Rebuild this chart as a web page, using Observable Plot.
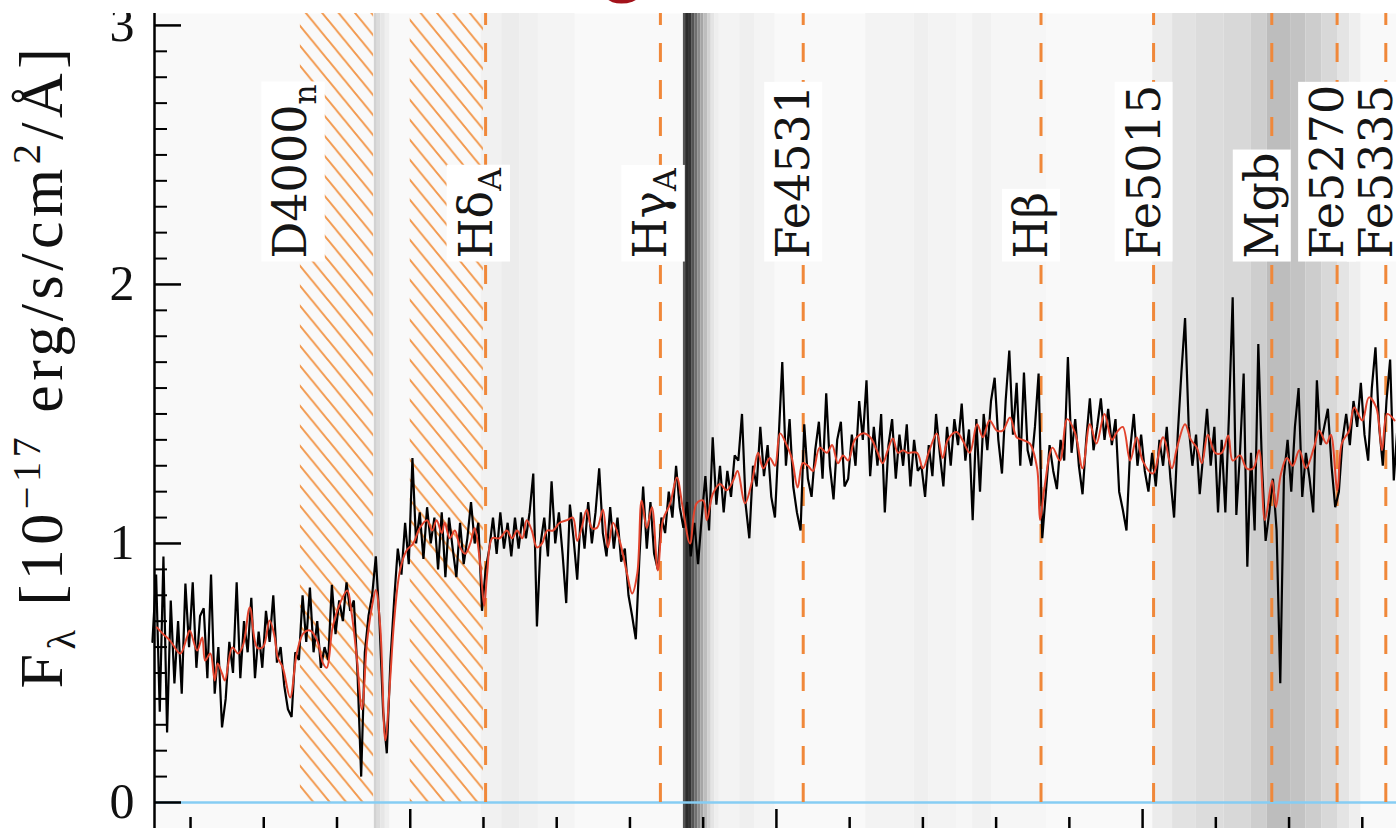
<!DOCTYPE html>
<html><head><meta charset="utf-8">
<script src="https://cdn.jsdelivr.net/npm/d3@7"></script>
<script src="https://cdn.jsdelivr.net/npm/@observablehq/plot@0.6"></script>
<style>
html,body{margin:0;padding:0;background:#fff;overflow:hidden;}
#wrap{position:relative;width:1396px;height:828px;overflow:hidden;}
#topmask{position:absolute;left:0;top:0;width:1396px;height:13px;background:#fff;overflow:hidden;}
#title{position:absolute;left:598px;top:-52px;font:bold 60px "Liberation Sans";color:#a3121b;white-space:nowrap;}
#ylabel{position:absolute;left:45px;top:366px;transform:translate(-50%,-50%) rotate(-90deg);white-space:nowrap;font-family:"Liberation Serif";font-size:62px;line-height:1;color:#111;letter-spacing:4.5px;}
#ylabel sub,#ylabel sup{font-size:0.65em;}
</style></head><body>
<div id="wrap"><div id="chart"></div><div id="topmask"><span id="title">G</span></div>
<div id="ylabel">F<sub>λ</sub> [10<sup>−17</sup> erg/s/cm<sup>2</sup>/Å]</div></div>
<script>
// ---- spectral index labels and lines ----
const indexNames = ["H\u03b4_A", "H\u03b3_A", "Fe4531", "H\u03b2", "Fe5015", "Mgb", "Fe5270", "Fe5335"];
const indexWaves = [4102.9, 4341.6, 4536.6, 4861.3, 5015.0, 5176.4, 5265.6, 5332.1];
const d4000Name = "D4000_n";
const d4000Wave = 3850;
// D4000n blue and red bands (hatched)
const hatchStart = [3850, 4000];
const hatchEnd = [3950, 4100];
// grey sky/weight bands behind the spectrum
const bandStart = [3951,3955,3960,3966, 4097,4125,4150,4175, 4373,4376,4380,4385,4389,4393,4397,4401,4406,4411,4416, 4422,4450,4470, 4622,4688,4708,4746,4768,4794, 5014,5041,5073,5111,5148,5170,5203,5223,5245,5267,5283];
const bandEnd   = [3955,3960,3966,3972, 4125,4150,4175,4225, 4376,4380,4385,4389,4393,4397,4401,4406,4411,4416,4422, 4450,4470,4498, 4688,4708,4746,4768,4794,4869, 5041,5073,5111,5148,5170,5203,5223,5245,5267,5283,5298];
const bandGray  = ["#d2d2d2","#dcdcdc","#e6e6e6","#efefef", "#f1f1f1","#ececec","#f0f0f0","#f4f4f4",
  "#555555","#2c2c2c","#333333","#555555","#707070","#8c8c8c","#a5a5a5","#bdbdbd","#d2d2d2","#e4e4e4","#eeeeee",
  "#f3f3f3","#efefef","#f4f4f4", "#f3f3f3","#efefef","#f3f3f3","#f6f6f6","#f1f1f1","#f6f6f6",
  "#ececec","#e2e2e2","#dcdcdc","#d8d8d8","#cecece","#bdbdbd","#c3c3c3","#cdcdcd","#d8d8d8","#e4e4e4","#eeeeee"];

// ---- observed spectrum (flux, 1e-17 erg/s/cm2/A) on a 5 A grid starting at 3648 A ----
const waveStart = 3648, waveStep = 5;
const flux = [
 0.62,0.88,0.35,0.95,0.27,0.78,0.46,0.70,0.42,0.845,
 0.60,0.85,0.52,0.72,0.75,0.48,0.88,0.42,0.60,0.29,
 0.40,0.62,0.50,0.85,0.48,0.70,0.58,0.79,0.48,0.66,
 0.52,0.74,0.62,0.80,0.54,0.60,0.45,0.36,0.33,0.58,
 0.55,0.80,0.62,0.83,0.58,0.70,0.52,0.60,0.55,0.84,
 0.65,0.78,0.70,0.85,0.74,0.78,0.50,0.10,0.58,0.72,
 0.80,0.95,0.70,0.35,0.19,0.55,0.78,0.98,0.88,1.08,
 0.92,1.33,1.00,1.12,0.94,1.14,1.00,1.10,0.90,1.12,
 0.87,1.10,0.98,0.87,1.08,0.92,1.02,1.16,1.00,1.08,
 0.74,0.90,0.98,1.10,0.96,1.12,0.98,1.08,0.95,1.10,
 0.98,1.10,1.02,1.12,1.27,0.68,1.00,1.10,0.95,1.24,
 1.00,1.12,0.96,0.77,1.15,1.02,0.86,1.12,0.98,1.16,
 1.00,1.12,1.29,1.04,0.95,1.14,0.98,1.10,0.93,0.98,
 0.80,0.72,0.63,0.95,1.22,0.98,1.16,0.96,0.90,1.10,
 1.04,1.20,1.10,1.30,1.14,1.06,1.16,0.95,1.08,0.92,
 1.10,1.26,1.05,1.41,1.15,1.30,1.12,1.28,1.18,1.34,
 1.32,1.50,1.15,1.02,1.30,1.22,1.45,1.26,1.38,1.18,
 1.10,1.40,1.70,1.30,1.48,1.22,1.12,1.05,1.46,1.25,
 1.18,1.36,1.47,1.25,1.58,1.30,1.17,1.40,1.47,1.22,
 1.25,1.42,1.30,1.55,1.40,1.63,1.26,1.45,1.30,1.50,
 1.12,1.38,1.48,1.25,1.42,1.30,1.46,1.22,1.40,1.28,
 1.30,1.18,1.38,1.26,1.50,1.35,1.22,1.45,1.30,1.48,
 1.38,1.54,1.32,1.44,1.09,1.48,1.20,1.50,1.36,1.55,
 1.64,1.40,1.27,1.55,1.745,1.42,1.62,1.30,1.66,1.36,
 1.30,1.45,1.656,1.02,1.20,1.38,1.28,1.21,1.40,1.32,
 1.72,1.35,1.48,1.30,1.19,1.40,1.56,1.36,1.45,1.56,
 1.40,1.52,1.38,1.48,1.20,1.13,1.05,1.36,1.50,1.30,
 1.42,1.28,1.20,1.35,1.22,1.40,1.30,1.45,1.25,1.10,
 1.42,1.66,1.87,1.45,1.30,1.42,1.19,1.35,1.52,1.30,
 1.45,1.12,1.40,1.12,1.50,1.95,1.11,1.35,1.656,0.91,
 1.35,1.05,1.77,1.30,1.01,1.12,1.25,1.05,0.46,1.26,
 1.40,1.20,1.45,1.60,1.18,1.35,1.25,1.12,1.63,1.38,
 1.45,1.52,1.30,1.14,1.20,1.40,1.50,1.38,1.55,1.45,
 1.62,1.42,1.32,1.60,1.757,1.45,1.30,1.55,1.71,1.243,1.45
];

// ---- best-fit model ----
const modelWave = [
 3654,3662,3672,3686,3695,3699,3709,3716,3720,3727,
 3733,3737,3743,3747,3757,3765,3772,3781,3791,3799,
 3808,3815,3819,3826,3836,3845,3854,3863,3873,3881,
 3886,3894,3904,3914,3920,3927,3934,3941,3948,3953,
 3959,3966,3972,3978,3986,3995,4004,4013,4023,4030,
 4036,4043,4047,4054,4061,4068,4075,4082,4088,4095,
 4101,4105,4112,4122,4132,4139,4146,4153,4159,4166,
 4173,4180,4187,4195,4204,4214,4222,4228,4234,4241,
 4248,4255,4263,4270,4277,4286,4296,4303,4310,4316,
 4323,4330,4338,4345,4355,4364,4372,4382,4391,4400,
 4405,4413,4423,4432,4441,4447,4457,4467,4475,4482,
 4491,4498,4505,4514,4521,4529,4536,4543,4550,4559,
 4569,4576,4584,4591,4598,4607,4618,4628,4637,4645,
 4652,4659,4666,4673,4679,4692,4700,4709,4719,4727,
 4734,4746,4754,4764,4774,4782,4791,4801,4809,4819,
 4828,4836,4846,4856,4860,4866,4877,4887,4897,4908,
 4918,4928,4937,4948,4958,4965,4973,4983,4992,5000,
 5014,5028,5040,5047,5058,5066,5074,5081,5089,5099,
 5108,5117,5123,5133,5142,5151,5159,5167,5177,5182,
 5189,5197,5205,5214,5223,5234,5241,5251,5257,5266,
 5272,5282,5289,5300,5309,5319,5327,5334,5344
];
const modelFlux = [
 0.676,0.652,0.625,0.575,0.637,0.664,0.587,0.637,0.548,0.575,
 0.471,0.537,0.498,0.471,0.598,0.575,0.61,0.753,0.598,0.60,
 0.703,0.637,0.56,0.521,0.405,0.575,0.653,0.664,0.625,0.537,
 0.52,0.676,0.768,0.818,0.73,0.56,0.36,0.62,0.76,0.82,
 0.68,0.24,0.45,0.70,0.896,0.973,1.0,1.06,1.09,1.05,
 1.09,1.04,1.08,1.02,1.05,0.985,0.96,1.0,1.06,0.934,
 0.76,0.884,1.02,1.02,1.05,1.02,1.05,1.02,1.09,1.05,
 0.985,1.0,1.05,1.05,1.08,1.09,1.10,1.01,1.06,1.13,
 1.06,1.06,1.13,0.985,1.08,1.01,0.884,0.807,0.884,1.166,
 1.06,1.14,0.896,1.09,1.155,1.255,1.14,1.0,1.155,1.166,
 1.09,1.19,1.23,1.205,1.243,1.28,1.155,1.243,1.35,1.29,
 1.33,1.30,1.425,1.38,1.33,1.216,1.31,1.30,1.28,1.37,
 1.35,1.38,1.31,1.34,1.32,1.40,1.425,1.41,1.36,1.31,
 1.36,1.405,1.35,1.36,1.35,1.35,1.29,1.36,1.425,1.33,
 1.40,1.43,1.40,1.35,1.46,1.41,1.475,1.436,1.436,1.486,
 1.41,1.40,1.386,1.29,1.09,1.216,1.37,1.32,1.48,1.425,
 1.29,1.46,1.386,1.50,1.40,1.43,1.45,1.32,1.41,1.32,
 1.27,1.41,1.29,1.37,1.46,1.40,1.37,1.31,1.42,1.35,
 1.35,1.417,1.32,1.34,1.29,1.29,1.36,1.09,1.243,1.14,
 1.27,1.33,1.30,1.36,1.29,1.37,1.436,1.386,1.42,1.205,
 1.386,1.436,1.525,1.475,1.564,1.525,1.36,1.50,1.475
];

// y-axis tick values
const yMajor = [0, 1, 2, 3];
const yMinor = d3.range(1, 31).map(i => i / 10).filter(v => Math.abs(v - Math.round(v)) > 1e-9);
const xMajor = [4000, 4500, 5000];
const xMinor = d3.range(3700, 5400, 100).filter(v => v % 500 !== 0);

// ---- build tables ----
const spec = flux.map((f, i) => ({w: waveStart + i * waveStep, f}));
const model = modelWave.map((w, i) => ({w, f: modelFlux[i]}));
const bands = bandStart.map((a, i) => ({a, b: bandEnd[i], g: bandGray[i]}));
const hatch = hatchStart.map((a, i) => ({a, b: hatchEnd[i]}));
const labels = indexNames.map((n, i) => ({n, w: indexWaves[i]})).concat([{n: d4000Name, w: d4000Wave}]);

const yTop = 3.046, yBottom = -0.1004;
const serif = "Liberation Serif";

const chart = Plot.plot({
  width: 1396, height: 828,
  marginLeft: 154, marginRight: 0, marginTop: 13, marginBottom: 0,
  x: {domain: [3650.8, 5346.7]},
  y: {domain: [yBottom, yTop]},
  style: {background: "#fff"},
  marks: [
    Plot.frame({fill: "#f9f9f9", stroke: null}),
    Plot.rect(bands, {x1: "a", x2: "b", fill: "g"}),
    Plot.rect(hatch, {x1: "a", x2: "b", y1: 0, y2: yTop, fill: "url(#hatch)"}),
    Plot.ruleY([0], {stroke: "#86cdf3", strokeWidth: 2.5}),
    Plot.ruleX(indexWaves, {y1: 0, y2: yTop, stroke: "#f0883a", strokeWidth: 3, strokeDasharray: "19,18"}),
    Plot.line(spec, {x: "w", y: "f", stroke: "#000", strokeWidth: 2.2, strokeLinejoin: "miter"}),
    Plot.line(model, {x: "w", y: "f", stroke: "#e2432d", strokeWidth: 2, curve: "catmull-rom"}),
    Plot.text(labels, {x: "w", y: 2.1, text: "n", rotate: -90, textAnchor: "start", lineAnchor: "bottom", dx: 6,
      fontSize: 46, fontFamily: "DejaVu Serif", fill: "#151515"}),
    Plot.frame({anchor: "left", strokeWidth: 2.5}),
    Plot.axisY({ticks: yMinor, tickSize: 13, dx: 13, tickFormat: () => "", strokeWidth: 2, label: null}),
    Plot.axisY({ticks: yMajor, tickSize: 27, dx: 27, tickFormat: () => "", strokeWidth: 2.5, label: null}),
    Plot.axisY({ticks: yMajor, tickSize: 0, tickPadding: 20, tickFormat: d => String(d), fontSize: 50, fontFamily: serif, label: null, fill: "#111"}),
    Plot.axisX({ticks: xMinor, tickSize: 11, dy: -11, tickFormat: () => "", strokeWidth: 2.5, label: null}),
    Plot.axisX({ticks: xMajor, tickSize: 19, dy: -19, tickFormat: () => "", strokeWidth: 2.5, label: null})
  ]
});
document.getElementById("chart").append(chart);

// hatch pattern definition
const ns = "http://www.w3.org/2000/svg";
const defs = document.createElementNS(ns, "defs");
const pat = document.createElementNS(ns, "pattern");
pat.setAttribute("id", "hatch");
pat.setAttribute("patternUnits", "userSpaceOnUse");
pat.setAttribute("width", "16.4");
pat.setAttribute("height", "20");
const pp = document.createElementNS(ns, "path");
pp.setAttribute("d", "M-2,-2.44L18.4,22.44M14.4,-2.44L34.8,22.44M-18.4,-2.44L2,22.44");
pp.setAttribute("stroke", "#f29a50");
pp.setAttribute("stroke-width", "2");
pp.setAttribute("fill", "none");
pat.appendChild(pp);
defs.appendChild(pat);
chart.insertBefore(defs, chart.firstChild);

// subscripts and white boxes behind the index labels
chart.querySelectorAll('g[aria-label="text"] text').forEach(t => {
  const s = t.textContent;
  const parts = s.split("_");
  t.textContent = "";
  const main = document.createElementNS(ns, "tspan");
  main.textContent = parts[0];
  t.appendChild(main);
  if (parts.length > 1) {
    const sub = document.createElementNS(ns, "tspan");
    sub.textContent = parts[1];
    sub.setAttribute("dy", "0.3em");
    sub.setAttribute("font-size", "0.68em");
    t.appendChild(sub);
  }
  const bb = t.getBBox();
  const r = document.createElementNS(ns, "rect");
  r.setAttribute("x", bb.x - 3);
  r.setAttribute("y", bb.y - 2);
  r.setAttribute("width", bb.width + 6);
  r.setAttribute("height", bb.height + 4);
  r.setAttribute("fill", "#fff");
  r.setAttribute("stroke", "none");
  if (t.getAttribute("transform")) r.setAttribute("transform", t.getAttribute("transform"));
  t.parentNode.insertBefore(r, t);
});
</script>
</body></html>
